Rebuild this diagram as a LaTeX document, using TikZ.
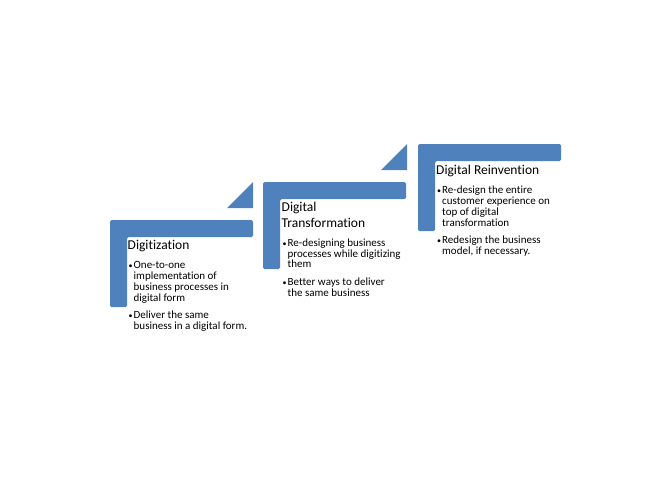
\documentclass[tikz,border=0pt]{standalone}
\usepackage{fontspec}
\setmainfont{Carlito}[Ligatures=NoCommon]
\usetikzlibrary{positioning}
\definecolor{stepblue}{RGB}{79, 129, 189}
\newcommand{\dotmark}{{\fontsize{8}{8}\selectfont\textbullet}}

\begin{document}
\begin{tikzpicture}[
  x=1pt, y=-1pt,
  stair/.pic={\fill[stepblue, rounded corners=1.5pt] (0,0) -- (143,0) -- (143,17) -- (17,17) -- (17,87) -- (0,87) -- cycle;},
  riser/.pic={\fill[stepblue] (0,0) -- (26,0) -- (26,-26) -- cycle;},
  title/.style={font=\fontsize{13.5}{15.5}\selectfont, inner sep=0pt, anchor=base west, align=left},
  points/.style={font=\fontsize{11}{10.8}\selectfont, inner sep=0pt},
]
  \useasboundingbox (0,0) rectangle (670,480);

  \pic at (110,220) {stair};
  \pic at (227,208) {riser};
  \pic at (263,182) {stair};
  \pic at (381,170) {riser};
  \pic at (418,144) {stair};

  \node[title] (digitization) at (127.5,249.5) {Digitization\strut};
  \node[points, below=6.5pt of digitization.south west, anchor=north west] (digitizationpts) {%
    \begin{tabular}{@{\hspace{1pt}}p{5pt}@{}l@{}}
      \dotmark & One-to-one\\
               & implementation of\\
               & business processes in\\
               & digital form\\[6.5pt]
      \dotmark & Deliver the same\\
               & business in a digital form.
    \end{tabular}};

  \node[title] (transformation) at (281.5,227) {Digital\\Transformation\strut};
  \node[points, below=6.5pt of transformation.south west, anchor=north west] (transformationpts) {%
    \begin{tabular}{@{\hspace{1pt}}p{5pt}@{}l@{}}
      \dotmark & Re-designing business\\
               & processes while digitizing\\
               & them\\[6.5pt]
      \dotmark & Better ways to deliver\\
               & the same business
    \end{tabular}};

  \node[title] (reinvention) at (436,174.5) {Digital Reinvention\strut};
  \node[points, below=6.5pt of reinvention.south west, anchor=north west] (reinventionpts) {%
    \begin{tabular}{@{\hspace{1pt}}p{5pt}@{}l@{}}
      \dotmark & Re-design the entire\\
               & customer experience on\\
               & top of digital\\
               & transformation\\[6.5pt]
      \dotmark & Redesign the business\\
               & model, if necessary.
    \end{tabular}};
\end{tikzpicture}
\end{document}
